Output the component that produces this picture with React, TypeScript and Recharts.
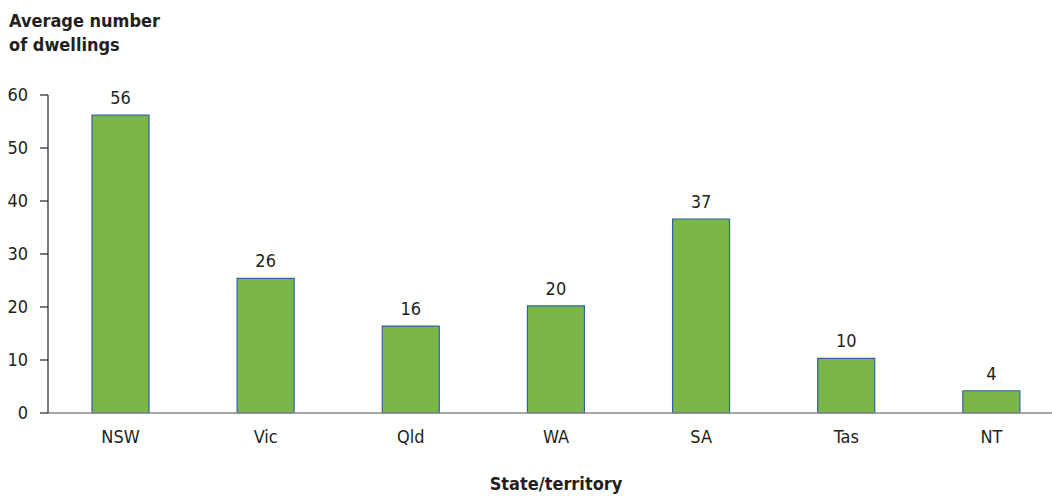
import React from "react";
import { BarChart, Bar, XAxis, YAxis, LabelList, Label } from "recharts";

const categories = ["NSW", "Vic", "Qld", "WA", "SA", "Tas", "NT"];
const dwellings = [56.2, 25.4, 16.4, 20.2, 36.6, 10.3, 4.2];
const valueLabels = ["56", "26", "16", "20", "37", "10", "4"];
const yTicks = [0, 10, 20, 30, 40, 50, 60];

const data = categories.map((c, i) => ({ name: c, value: dwellings[i], label: valueLabels[i] }));

const FONT = '"Liberation Sans Narrow", "DejaVu Sans Condensed", "Roboto", sans-serif';
const TEXT = "#231f20";

export default function App() {
  return (
    <div style={{ position: "absolute", left: 0, top: 0, width: 1052, height: 496, overflow: "hidden", background: "#fff", fontFamily: FONT }}>
      <div style={{ position: "absolute", left: 9, top: 9, fontWeight: 700, fontSize: 18, lineHeight: "24px", color: TEXT }}>
        Average number
        <br />
        of dwellings
      </div>
      <BarChart
        width={1070}
        height={496}
        data={data}
        margin={{ top: 95, right: 6, bottom: 13, left: 8 }}
        barSize={57}
      >
        <XAxis
          dataKey="name"
          axisLine={{ stroke: "#8a8a8a", strokeWidth: 1.5 }}
          tickLine={false}
          tickSize={8}
          tickMargin={9}
          height={70}
          tick={{ fill: TEXT, fontSize: 18, fontFamily: FONT }}
        >
          <Label
            value="State/territory"
            position="insideBottom"
            offset={-7}
            style={{ fill: TEXT, fontSize: 18, fontWeight: 700, fontFamily: FONT }}
          />
        </XAxis>
        <YAxis
          width={40}
          domain={[0, 60]}
          ticks={yTicks}
          interval={0}
          axisLine={{ stroke: "#222", strokeWidth: 1.2 }}
          tickLine={{ stroke: "#222", strokeWidth: 1.2 }}
          tickSize={8}
          tickMargin={12}
          tick={{ fill: TEXT, fontSize: 18, fontFamily: FONT }}
        />
        <Bar dataKey="value" fill="#7ab648" stroke="#2f62a3" strokeWidth={1.2} isAnimationActive={false}>
          <LabelList dataKey="label" position="top" offset={11} style={{ fill: TEXT, fontSize: 18, fontFamily: FONT }} />
        </Bar>
      </BarChart>
    </div>
  );
}
